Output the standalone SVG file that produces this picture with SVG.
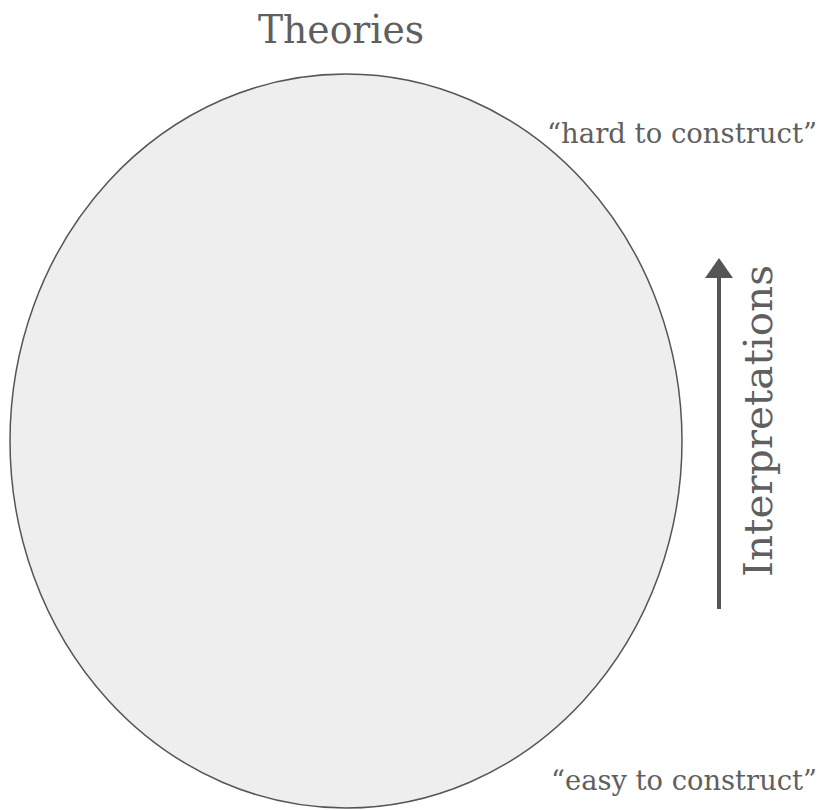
<svg xmlns="http://www.w3.org/2000/svg" width="826" height="810" viewBox="0 0 826 810">
<defs>
<style>
.t{font-family:"DejaVu Serif","Liberation Serif",serif;fill:#5f5f5f;}
</style>
<marker id="ah" markerWidth="5" markerHeight="7" refX="0" refY="3.5" orient="auto" markerUnits="strokeWidth">
<path d="M0,0 L5,3.5 L0,7 z" fill="#555555"/>
</marker>
</defs>
<rect width="826" height="810" fill="#ffffff"/>
<g id="title"><text class="t" x="341" y="43" font-size="39" text-anchor="middle" textLength="166" lengthAdjust="spacingAndGlyphs">Theories</text></g>
<g id="theories-set"><ellipse cx="346" cy="441" rx="336" ry="367" fill="#eeeeee" stroke="#555555" stroke-width="1.5"/></g>
<g id="hard-label"><text class="t" x="547" y="143" font-size="28" textLength="270" lengthAdjust="spacingAndGlyphs">“hard to construct”</text></g>
<g id="easy-label"><text class="t" x="551" y="790" font-size="28" textLength="266" lengthAdjust="spacingAndGlyphs">“easy to construct”</text></g>
<g id="connectors">
<line x1="719" y1="609" x2="719" y2="278" stroke="#555555" stroke-width="4" marker-end="url(#ah)"/>
</g>
<g id="interp-label"><text class="t" transform="translate(772,421) rotate(-90)" x="0" y="0" font-size="39" text-anchor="middle" textLength="312" lengthAdjust="spacingAndGlyphs">Interpretations</text></g>
</svg>
